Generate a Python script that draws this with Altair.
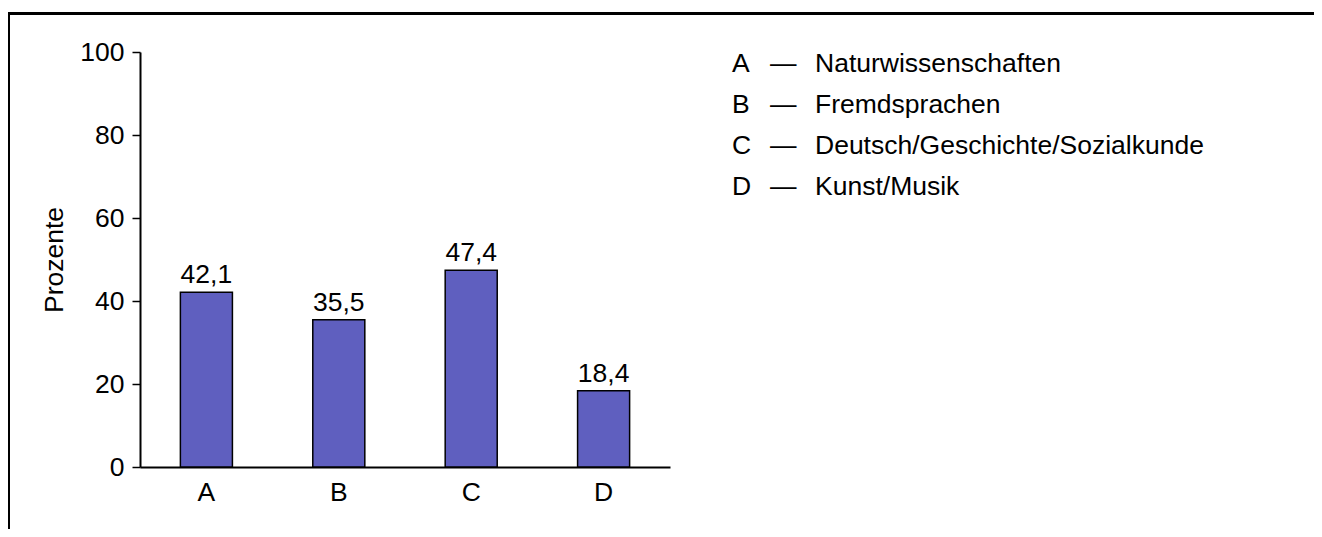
import altair as alt
import pandas as pd

letters = ["A", "B", "C", "D"]
values = [42.1, 35.5, 47.4, 18.4]
labels = ["42,1", "35,5", "47,4", "18,4"]
subjects = ["Naturwissenschaften", "Fremdsprachen", "Deutsch/Geschichte/Sozialkunde", "Kunst/Musik"]
y_ticks = [0, 20, 40, 60, 80, 100]

df = pd.DataFrame({"letter": letters, "value": values, "label": labels, "subject": subjects})

FONT = "Liberation Sans"
FS = 26.5

base = alt.Chart(df)

bars = base.mark_bar(color="#5F5FBF", stroke="black", strokeWidth=1.5).encode(
    x=alt.X("letter:N", sort=letters, title=None,
            scale=alt.Scale(paddingInner=0.607, paddingOuter=0.305),
            axis=alt.Axis(labelAngle=0, ticks=False, labelPadding=12, domainColor="black",
                          domainWidth=2, labelFont=FONT, labelFontSize=FS, labelColor="black")),
    y=alt.Y("value:Q", title="Prozente", scale=alt.Scale(domain=[0, 100], nice=False),
            axis=alt.Axis(values=y_ticks, grid=False, tickSize=8, tickColor="black", tickWidth=1.5,
                          labelPadding=8, domainColor="black", domainWidth=2,
                          labelFont=FONT, labelFontSize=FS, labelColor="black",
                          titleFont=FONT, titleFontSize=FS, titleFontWeight="normal",
                          titleColor="black", titlePadding=11)),
)

bar_text = base.mark_text(font=FONT, fontSize=FS, color="black", baseline="alphabetic", dy=-9).encode(
    x=alt.X("letter:N", sort=letters),
    y=alt.Y("value:Q"),
    text="label:N",
)

main = alt.layer(bars, bar_text)

leg_y = alt.Y("letter:N", sort=letters, scale=alt.Scale(type="point", range=[12, 135], padding=0), axis=None)

leg_letter = base.mark_text(font=FONT, fontSize=FS, color="black", align="left", baseline="middle").encode(
    x=alt.value(592), y=leg_y, text="letter:N")
leg_dash = base.mark_text(font=FONT, fontSize=FS, color="black", align="left", baseline="middle").encode(
    x=alt.value(630), y=leg_y, text=alt.value("—"))
leg_sub = base.mark_text(font=FONT, fontSize=FS, color="black", align="left", baseline="middle").encode(
    x=alt.value(675), y=leg_y, text="subject:N")
legend = alt.layer(leg_letter, leg_dash, leg_sub)

frame_data = alt.Data(values=[{"k": 1}])
top_line = alt.Chart(frame_data).mark_rule(color="black", strokeWidth=3).encode(
    x=alt.value(-133), x2=alt.value(1190), y=alt.value(-38.5))
left_line = alt.Chart(frame_data).mark_rule(color="black", strokeWidth=3).encode(
    x=alt.value(-131.5), y=alt.value(-40), y2=alt.value(500))

chart = alt.layer(main, legend, top_line, left_line).resolve_scale(y="independent").properties(
    width=530, height=415,
    background="white",
    padding={"left": 132, "top": 44, "right": 644, "bottom": 62},
    autosize=alt.AutoSizeParams(type="none"),
).configure_view(stroke=None, strokeWidth=0)

chart.save("out.html", embed_options={"renderer": "svg", "actions": False})
